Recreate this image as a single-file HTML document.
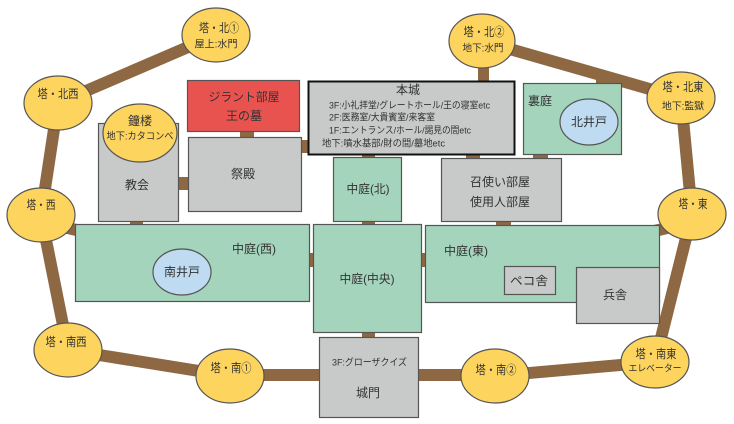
<!DOCTYPE html>
<html><head><meta charset="utf-8">
<style>
html,body{margin:0;padding:0;background:#fff;}
svg{display:block;}
text{font-family:"Liberation Sans","Noto Sans CJK JP",sans-serif;fill:#333;dominant-baseline:central;text-anchor:middle;}
text.l{text-anchor:start;}
</style></head>
<body>
<svg width="734" height="424" viewBox="0 0 734 424" xmlns="http://www.w3.org/2000/svg">
<rect width="734" height="424" fill="#fff"/>
<!-- roads -->
<g stroke="#8E6843" stroke-width="12" stroke-linecap="butt" fill="none">
<line x1="58" y1="103" x2="216" y2="35"/>
<line x1="58" y1="103" x2="41" y2="215"/>
<line x1="41" y1="215" x2="68" y2="350"/>
<line x1="68" y1="350" x2="230" y2="376"/>
<line x1="230" y1="375" x2="330" y2="375"/>
<line x1="410" y1="375" x2="495" y2="375"/>
<line x1="495" y1="376" x2="655" y2="362"/>
<line x1="655" y1="362" x2="692" y2="214"/>
<line x1="692" y1="214" x2="681" y2="98"/>
<line x1="681" y1="98" x2="482" y2="41"/>
<line x1="604" y1="72" x2="604" y2="90" stroke-width="16"/>
<line x1="55" y1="225" x2="85" y2="232"/>
<line x1="650" y1="232" x2="680" y2="225"/>
</g>
<!-- connectors -->
<g fill="#8E6843">
<rect x="240" y="129" width="14" height="10"/>
<rect x="176" y="177" width="14" height="13"/>
<rect x="299" y="140" width="11" height="13"/>
<rect x="478" y="60" width="11" height="23"/>
<rect x="362" y="152" width="13" height="7"/>
<rect x="466" y="152" width="14" height="8"/>
<rect x="533" y="152" width="15" height="8"/>
<rect x="130" y="219" width="13" height="7"/>
<rect x="362" y="219" width="13" height="7"/>
<rect x="496" y="219" width="15" height="8"/>
<rect x="307" y="253" width="8" height="14"/>
<rect x="419" y="253" width="8" height="14"/>
<rect x="362" y="330" width="13" height="9"/>
</g>
<!-- boxes -->
<g stroke="#555" stroke-width="1.2">
<rect x="98.5" y="123.5" width="80" height="98" fill="#C8C9C9"/>
<rect x="187.5" y="80.5" width="112" height="51" fill="#E85350"/>
<rect x="188.5" y="137.5" width="113" height="74" fill="#C8C9C9"/>
<rect x="308.5" y="81.5" width="206" height="73" fill="#C8C9C9" stroke="#111" stroke-width="2"/>
<rect x="523.5" y="83.5" width="98" height="71" fill="#A4D4BB"/>
<rect x="333.5" y="157.5" width="68" height="64" fill="#A4D4BB"/>
<rect x="441.5" y="158.5" width="120" height="63" fill="#C8C9C9"/>
<rect x="75.5" y="224.5" width="234" height="77" fill="#A4D4BB"/>
<rect x="313.5" y="224.5" width="108" height="108" fill="#A4D4BB"/>
<rect x="425.5" y="225.5" width="234" height="77" fill="#A4D4BB"/>
<rect x="504.5" y="266.5" width="51" height="28" fill="#C8C9C9"/>
<rect x="576.5" y="267.5" width="83" height="56" fill="#C8C9C9"/>
<rect x="319.5" y="337.5" width="99" height="80" fill="#C8C9C9"/>
</g>
<!-- ellipses -->
<g stroke="#555" stroke-width="1.2" fill="#FDD45E">
<ellipse cx="216" cy="35" rx="34" ry="27"/>
<ellipse cx="58" cy="103" rx="34" ry="27"/>
<ellipse cx="41" cy="215" rx="34" ry="27"/>
<ellipse cx="140" cy="133" rx="37" ry="29"/>
<ellipse cx="482" cy="41" rx="33" ry="27"/>
<ellipse cx="681" cy="98" rx="34" ry="26"/>
<ellipse cx="692" cy="214" rx="34" ry="26"/>
<ellipse cx="68" cy="350" rx="34" ry="27"/>
<ellipse cx="230" cy="376" rx="34" ry="27"/>
<ellipse cx="495" cy="376" rx="34" ry="27"/>
<ellipse cx="655" cy="362" rx="34" ry="26"/>
<ellipse cx="589" cy="122" rx="29" ry="23" fill="#BEDBF1"/>
<ellipse cx="182" cy="272" rx="29" ry="23" fill="#BEDBF1"/>
</g>
<!-- ellipse labels -->
<g font-size="12">
<text x="219" y="28" textLength="40" lengthAdjust="spacingAndGlyphs">塔・北①</text>
<text x="216" y="45" font-size="10" textLength="43" lengthAdjust="spacingAndGlyphs">屋上:水門</text>
<text x="58" y="94" textLength="41" lengthAdjust="spacingAndGlyphs">塔・北西</text>
<text x="41" y="205" textLength="29" lengthAdjust="spacingAndGlyphs">塔・西</text>
<text x="140" y="121">鐘楼</text>
<text x="140" y="137" font-size="10" textLength="67" lengthAdjust="spacingAndGlyphs">地下:カタコンベ</text>
<text x="484" y="32" textLength="41" lengthAdjust="spacingAndGlyphs">塔・北②</text>
<text x="483" y="49" font-size="10" textLength="41" lengthAdjust="spacingAndGlyphs">地下:水門</text>
<text x="683" y="87" textLength="41" lengthAdjust="spacingAndGlyphs">塔・北東</text>
<text x="683" y="107" font-size="10" textLength="42" lengthAdjust="spacingAndGlyphs">地下:監獄</text>
<text x="693" y="204" textLength="29" lengthAdjust="spacingAndGlyphs">塔・東</text>
<text x="66" y="342" textLength="41" lengthAdjust="spacingAndGlyphs">塔・南西</text>
<text x="231" y="368" textLength="41" lengthAdjust="spacingAndGlyphs">塔・南①</text>
<text x="496" y="370" textLength="41" lengthAdjust="spacingAndGlyphs">塔・南②</text>
<text x="656" y="354" textLength="41" lengthAdjust="spacingAndGlyphs">塔・南東</text>
<text x="655" y="369" font-size="9.5" textLength="53" lengthAdjust="spacingAndGlyphs">エレベーター</text>
<text x="589" y="122">北井戸</text>
<text x="182" y="272">南井戸</text>
</g>
<!-- box labels -->
<g font-size="12">
<text x="137" y="185">教会</text>
<text x="244" y="97" textLength="71" lengthAdjust="spacingAndGlyphs">ジラント部屋</text>
<text x="244" y="116">王の墓</text>
<text x="243" y="174">祭殿</text>
<text x="408" y="90">本城</text>
<text x="540" y="101">裏庭</text>
<text x="368" y="189" textLength="43" lengthAdjust="spacingAndGlyphs">中庭(北)</text>
<text x="500" y="182">召使い部屋</text>
<text x="500" y="202">使用人部屋</text>
<text x="254" y="249" textLength="44" lengthAdjust="spacingAndGlyphs">中庭(西)</text>
<text x="367" y="279" textLength="55" lengthAdjust="spacingAndGlyphs">中庭(中央)</text>
<text x="466" y="251" textLength="44" lengthAdjust="spacingAndGlyphs">中庭(東)</text>
<text x="529" y="281" textLength="38" lengthAdjust="spacingAndGlyphs">ペコ舎</text>
<text x="615" y="295">兵舎</text>
<text x="368" y="393">城門</text>
</g>
<g font-size="9.5">
<text class="l" x="329" y="106" textLength="161" lengthAdjust="spacingAndGlyphs">3F:小礼拝堂/グレートホール/王の寝室etc</text>
<text class="l" x="329" y="118" textLength="106" lengthAdjust="spacingAndGlyphs">2F:医務室/大貴賓室/来客室</text>
<text class="l" x="329" y="131" textLength="142" lengthAdjust="spacingAndGlyphs">1F:エントランス/ホール/謁見の間etc</text>
<text class="l" x="322" y="144" textLength="123" lengthAdjust="spacingAndGlyphs">地下:噴水基部/財の間/墓地etc</text>
<text class="l" x="332" y="363" textLength="75" lengthAdjust="spacingAndGlyphs">3F:グローザクイズ</text>
</g>
</svg>
</body></html>
